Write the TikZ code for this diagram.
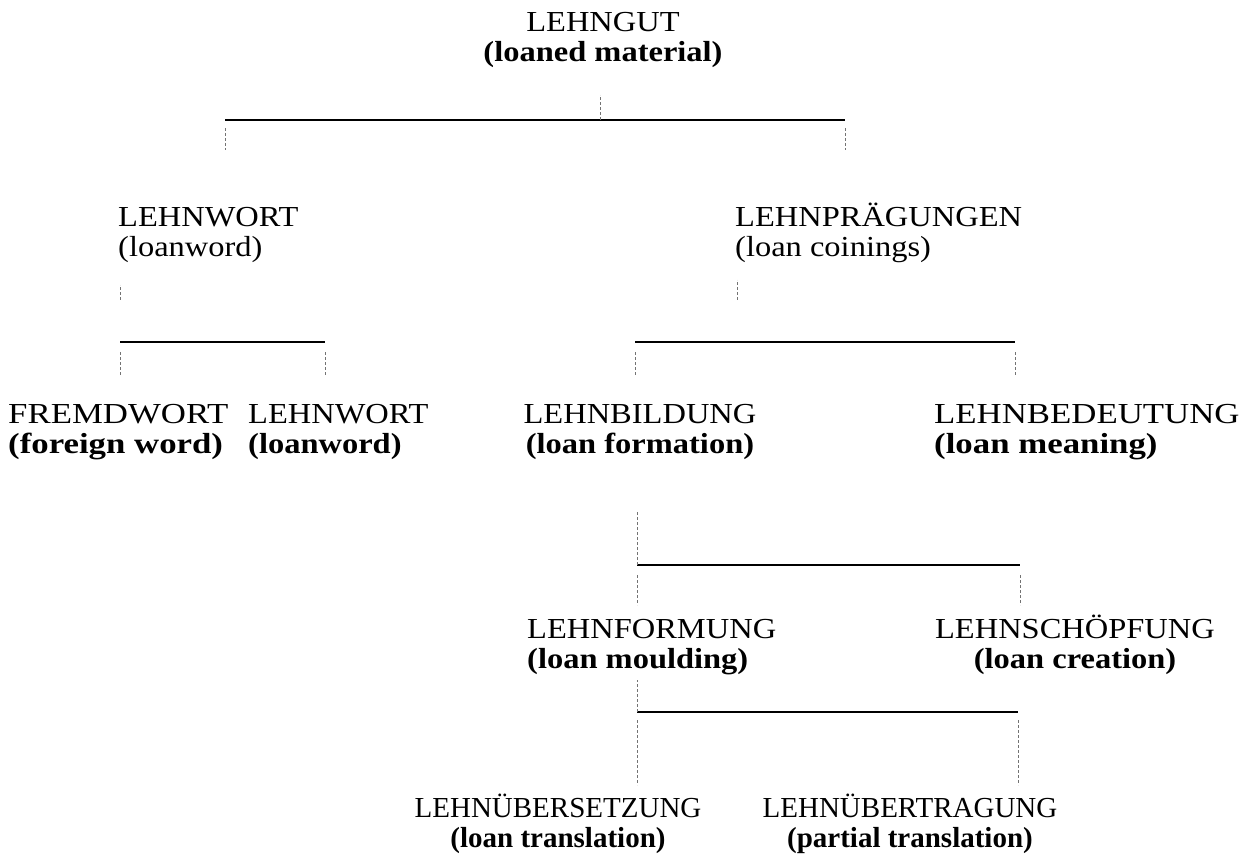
\documentclass[tikz,border=0pt]{standalone}
\usepackage{fontspec}
\setmainfont{Liberation Serif}
\newfontfamily\termfont[FakeStretch=1.12]{Liberation Serif}
\newfontfamily\widefont[FakeStretch=1.2]{Liberation Serif}
\usetikzlibrary{positioning}

\tikzset{
	term/.style={inner sep=0pt,font=\termfont\fontsize{29}{30}\selectfont},
	wideterm/.style={term,font=\widefont\fontsize{29}{30}\selectfont},
	narrowterm/.style={term,font=\rmfamily\fontsize{29}{30}\selectfont},
	bar/.style={line width=1.3pt},
	stub/.style={densely dashed,line width=0.5pt,black!55}
}

\begin{document}
\begin{tikzpicture}[x=1pt,y=-1pt]
		\useasboundingbox (0,0) rectangle (1241,858);
		%Top
			\node[term,align=center,anchor=base] (gut) at (603,62) {LEHNGUT\\{\bfseries(loaned material)}};
		%Second row
			\node[term,align=left,anchor=base west] (wort) at (118,257) {LEHNWORT\\(loanword)};
			\node[term,align=left,anchor=base west] (praeg) at (735,257) {LEHNPRÄGUNGEN\\(loan coinings)};
		%Third row
			\node[wideterm,align=left,anchor=base west] (fremd) at (8,453) {FREMDWORT\\{\bfseries(foreign word)}};
			\node[term,align=left,anchor=base west] (lwort) at (248,453) {LEHNWORT\\{\bfseries(loanword)}};
			\node[term,align=center,anchor=base] (bild) at (640,453) {LEHNBILDUNG\\{\bfseries(loan formation)}};
			\node[wideterm,align=left,anchor=base west] (bed) at (934,453) {LEHNBEDEUTUNG\\{\bfseries(loan meaning)}};
		%Fourth row
			\node[term,align=left,anchor=base west] (form) at (527,668) {LEHNFORMUNG\\{\bfseries(loan moulding)}};
			\node[term,align=center,anchor=base] (schoepf) at (1075,668) {LEHNSCHÖPFUNG\\{\bfseries(loan creation)}};
		%Bottom row
			\node[narrowterm,align=center,anchor=base] (uebers) at (558,847) {LEHNÜBERSETZUNG\\{\bfseries(loan translation)}};
			\node[narrowterm,align=center,anchor=base] (uebertr) at (910,847) {LEHNÜBERTRAGUNG\\{\bfseries(partial translation)}};
		%Bars
			\coordinate (gutL) at (225,120);
			\coordinate (gutR) at (845,120);
			\coordinate (gutM) at (600,120);
			\coordinate (wortL) at (120,342);
			\coordinate (wortR) at (325,342);
			\coordinate (praegL) at (635,342);
			\coordinate (praegR) at (1015,342);
			\coordinate (praegM) at (737,342);
			\coordinate (bildL) at (637,565);
			\coordinate (bildR) at (1020,565);
			\coordinate (formL) at (637,712);
			\coordinate (formR) at (1018,712);
			\foreach \b in {gut,wort,praeg,bild,form}
			{
				\draw[bar] (\b L) -- (\b R);
			}
		%Stubs up to the parents
			\draw[stub] (gutM) -- ++(0,-25);
			\draw[stub] (wortL) ++(0,-42) -- ++(0,-15);
			\draw[stub] (praegM) ++(0,-42) -- ++(0,-20);
			\draw[stub] (bildL) -- ++(0,-53);
			\draw[stub] (formL) -- ++(0,-32);
		%Stubs down to the children
			\foreach \c in {gutL,gutR}
				\draw[stub] (\c) ++(0,8) -- ++(0,22);
			\foreach \c in {wortL,wortR,praegL,praegR}
				\draw[stub] (\c) ++(0,10) -- ++(0,23);
			\foreach \c in {bildL,bildR}
				\draw[stub] (\c) ++(0,10) -- ++(0,30);
			\foreach \c in {formL,formR}
				\draw[stub] (\c) ++(0,8) -- ++(0,65);
	\end{tikzpicture}
\end{document}
